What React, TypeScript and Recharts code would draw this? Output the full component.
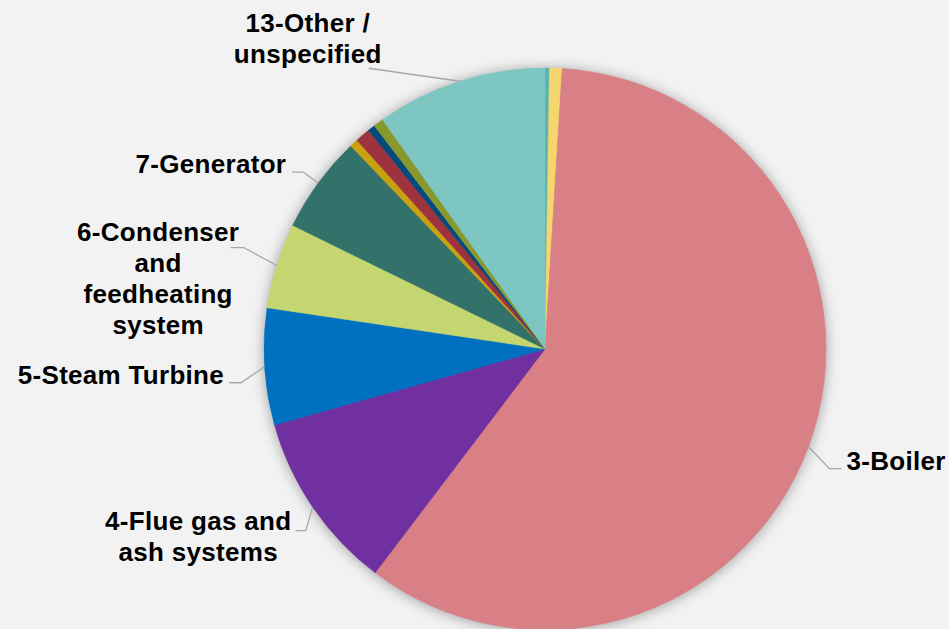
import { PieChart, Pie, Cell } from "recharts";

// share of outages by plant area, %
const categories = [
  "1",
  "2",
  "3-Boiler",
  "4-Flue gas and ash systems",
  "5-Steam Turbine",
  "6-Condenser and feedheating system",
  "7-Generator",
  "8",
  "9",
  "10",
  "11",
  "13-Other / unspecified",
];
const shares = [0.25, 0.72, 59.3, 10.3, 6.7, 4.9, 5.6, 0.47, 0.86, 0.42, 0.58, 9.8];
const colors = [
  "#59B4B0",
  "#F5D66E",
  "#D98087",
  "#7030A0",
  "#0070C0",
  "#C4D66F",
  "#33716B",
  "#C9A00F",
  "#9E3340",
  "#004B7C",
  "#87982F",
  "#7EC6C1",
];

const data = categories.map((name, i) => ({ name, value: shares[i] }));
const shadowData = [{ name: "shadow", value: 1 }];

type Layout = {
  lines: string[];
  elbow: [number, number];
  tail: number;
  dx: number;
  dy: number;
  anchor: "start" | "middle" | "end";
};

// leader line shape and text offset, relative to the slice's outer edge
const labelLayout: Record<string, Layout> = {
  "3-Boiler": { lines: ["3-Boiler"], elbow: [21, 22], tail: 12, dx: 5, dy: -8, anchor: "start" },
  "4-Flue gas and ash systems": {
    lines: ["4-Flue gas and", "ash systems"],
    elbow: [-7, 23.5],
    tail: -10,
    dx: -97.5,
    dy: -9.3,
    anchor: "middle",
  },
  "5-Steam Turbine": { lines: ["5-Steam Turbine"], elbow: [-23.5, 16], tail: -12, dx: -5, dy: -8, anchor: "end" },
  "6-Condenser and feedheating system": {
    lines: ["6-Condenser", "and", "feedheating", "system"],
    elbow: [-33, -18],
    tail: -13,
    dx: -72.5,
    dy: -15.3,
    anchor: "middle",
  },
  "7-Generator": { lines: ["7-Generator"], elbow: [-15, -11], tail: -11, dx: -6, dy: -8, anchor: "end" },
  "13-Other / unspecified": {
    lines: ["13-Other /", "unspecified"],
    elbow: [-91, -13],
    tail: 0,
    dx: -61,
    dy: -45,
    anchor: "middle",
  },
};

const FONT_SIZE = 26;
const LINE_H = 31;
const RAD = Math.PI / 180;

function renderLabel(props: any) {
  const { cx, cy, midAngle, outerRadius, name } = props;
  const l = labelLayout[name];
  if (!l) return null;
  const ex = cx + outerRadius * Math.cos(-midAngle * RAD);
  const ey = cy + outerRadius * Math.sin(-midAngle * RAD);
  const kx = ex + l.elbow[0];
  const ky = ey + l.elbow[1];
  const tx = kx + l.tail;
  const x = tx + l.dx;
  const y = ky + l.dy + FONT_SIZE * 0.35;
  return (
    <g>
      <polyline
        points={`${ex},${ey} ${kx},${ky} ${tx},${ky}`}
        fill="none"
        stroke="#A6A6A6"
        strokeWidth={1.3}
      />
      <text
        x={x}
        y={y}
        textAnchor={l.anchor}
        fontFamily="'Liberation Sans', Arial, sans-serif"
        fontWeight="bold"
        fontSize={FONT_SIZE}
        letterSpacing={0.3}
        fill="#000"
      >
        {l.lines.map((s, i) => (
          <tspan key={i} x={x} y={y + i * LINE_H}>
            {s}
          </tspan>
        ))}
      </text>
    </g>
  );
}

export default function App() {
  return (
    <div style={{ width: 949, height: 629, background: "#F2F2F2" }}>
      <style>{"body{margin:0} .pie-shadow{filter:blur(4px)}"}</style>
      <PieChart width={949} height={629} margin={{ top: 0, right: 0, bottom: 0, left: 0 }}>
        <Pie
          className="pie-shadow"
          data={shadowData}
          dataKey="value"
          cx={545}
          cy={350}
          outerRadius={282}
          startAngle={90}
          endAngle={-270}
          fill="rgba(0,0,0,0.3)"
          stroke="none"
          label={false}
          labelLine={false}
          isAnimationActive={false}
        />
        <Pie
          data={data}
          dataKey="value"
          nameKey="name"
          cx={545}
          cy={349}
          outerRadius={281}
          startAngle={90}
          endAngle={-270}
          label={renderLabel}
          labelLine={false}
          isAnimationActive={false}
        >
          {data.map((d, i) => (
            <Cell key={d.name} fill={colors[i]} stroke={colors[i]} strokeWidth={0.5} />
          ))}
        </Pie>
      </PieChart>
    </div>
  );
}
